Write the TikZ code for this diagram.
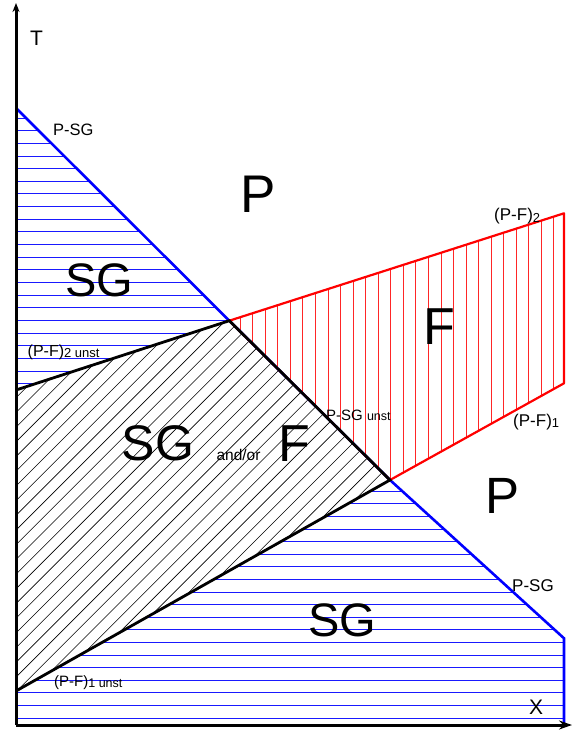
\documentclass[tikz,border=0pt]{standalone}
\usepackage{fontspec}
\setmainfont{Liberation Sans}
\usetikzlibrary{arrows.meta}
\definecolor{hblue}{rgb}{0.1,0.1,1}
\definecolor{oblue}{rgb}{0,0,1}
\definecolor{hred}{rgb}{1,0.15,0.15}
\tikzset{
  bluehatch/.style={draw=hblue,line width=0.9pt},
  blackhatch/.style={draw=black,line width=0.6pt},
  redhatch/.style={draw=hred,line width=0.9pt},
  blueedge/.style={draw=oblue,line width=2.6pt},
  rededge/.style={draw=red,line width=2.2pt},
  blackedge/.style={draw=black,line width=2.8pt},
  axisline/.style={draw=black,line width=3pt},
  lbl/.style={anchor=base west,inner sep=0pt},
  big/.style={anchor=base,inner sep=0pt},
}
\newcommand{\fsz}[1]{\fontsize{#1}{#1}\selectfont}
\begin{document}
\begin{tikzpicture}[x=1pt,y=-1pt]
\useasboundingbox (0,0) rectangle (579,732);
% key points
\coordinate (A) at (16,108);
\coordinate (U) at (229.3,320.7);
\coordinate (L) at (390,480);
\coordinate (C) at (564,638.3);
\coordinate (B) at (564,725);
\coordinate (O) at (16,725);
\coordinate (K2) at (16,390);
\coordinate (K1) at (16,691);
\coordinate (R2) at (564,213.3);
\coordinate (R1) at (564,383.3);
\coordinate (Ttop) at (16,3);
\coordinate (Xend) at (572,725);
% blue hatch upper
\begin{scope}
\clip (A) -- (U) -- (K2) -- cycle;
\foreach \k in {0,...,23} \draw[bluehatch] (16,{118+12.65*\k}) -- (240,{118+12.65*\k});
\end{scope}
% blue hatch lower
\begin{scope}
\clip (K1) -- (L) -- (C) -- (B) -- (O) -- cycle;
\foreach \k in {0,...,20} \draw[bluehatch] (16,{718-12.6*\k}) -- (570,{718-12.6*\k});
\end{scope}
% black hatch
\begin{scope}
\clip (K2) -- (U) -- (L) -- (K1) -- cycle;
\foreach \k in {-9,...,25} \draw[blackhatch] ({516.7+14.7*\k-300},300) -- ({516.7+14.7*\k-720},720);
\end{scope}
% red hatch
\begin{scope}
\clip (U) -- (R2) -- (R1) -- (L) -- cycle;
\foreach \k in {0,...,25} \draw[redhatch] ({240.15+12.55*\k},200) -- ({240.15+12.55*\k},490);
\end{scope}
% outlines
\draw[blueedge] (A) -- (U) -- (L) -- (C) -- (B);
\draw[rededge,line join=round] (U) -- (R2) -- (R1) -- (L) -- cycle;
\draw[blackedge] (K2) -- (U) -- (L) -- (K1);
% axes
\draw[axisline,-{Stealth[length=9pt,width=7pt]}] (O) -- (Ttop);
\draw[axisline,-{Stealth[length=13pt,width=9pt]}] (O) -- (Xend);
% labels
\node[lbl] (t) at (30,45.7) {\fsz{21}T};
\node[lbl] (x) at (529,714) {\fsz{21}X};
\node[lbl] (psg1) at (53,135) {\fsz{16.5}P-SG};
\node[lbl] (psg2) at (512,591.7) {\fsz{17}P-SG};
\node[lbl] (psgu) at (326,420) {\fsz{15}P-SG {\fsz{12.5}unst}};
\node[lbl] (pf2) at (494,220.7) {\fsz{17}(P-F)\raisebox{-1.5pt}{\fsz{13}2}};
\node[lbl] (pf1) at (513,426) {\fsz{17}(P-F)\raisebox{-1.5pt}{\fsz{13}1}};
\node[lbl] (pf2u) at (27.5,356.7) {\fsz{16}(P-F)\raisebox{-0.5pt}{\fsz{13}2 unst}};
\node[lbl] (pf1u) at (54,686.7) {\fsz{15}(P-F)\raisebox{-0.5pt}{\fsz{12.5}1 unst}};
\node[big] (p1) at (258,212.7) {\fsz{53}P};
\node[big] (p2) at (503,513.3) {\fsz{51}P};
\node[big] (sg1) at (99,296) {\fsz{47}SG};
\node[big] (sg2) at (158,460.7) {\fsz{50}SG};
\node[big] (sg3) at (342.5,636.7) {\fsz{47}SG};
\node[big] (f1) at (439,344) {\fsz{52}F};
\node[big] (f2) at (294,461.7) {\fsz{52}F};
\node[big] (ao) at (238.5,460) {\fsz{15.5}and/or};
\end{tikzpicture}
\end{document}
